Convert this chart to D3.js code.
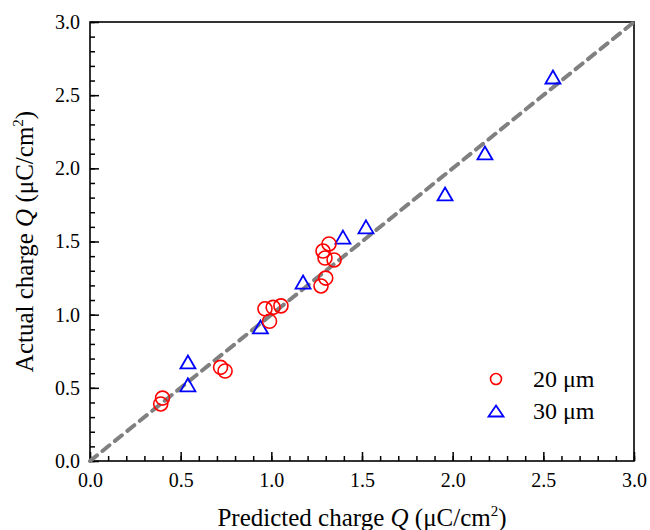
<!DOCTYPE html>
<html>
<head>
<meta charset="utf-8">
<script src="https://cdn.jsdelivr.net/npm/d3@7/dist/d3.min.js"></script>
<style>
  body { margin: 0; background: #fff; }
</style>
</head>
<body>
<svg width="650" height="530"></svg>
<script>
// 20 um samples (predicted, actual)
var pred20 = [0.40, 0.39, 0.72, 0.745, 0.965, 0.99, 1.01, 1.053, 1.274, 1.30, 1.285, 1.296, 1.318, 1.346];
var act20  = [0.43, 0.39, 0.64, 0.615, 1.04, 0.955, 1.05, 1.06, 1.196, 1.25, 1.435, 1.387, 1.483, 1.374];
// 30 um samples
var pred30 = [0.54, 0.54, 0.94, 1.175, 1.395, 1.522, 1.958, 2.178, 2.553];
var act30  = [0.52, 0.677, 0.916, 1.223, 1.53, 1.60, 1.825, 2.105, 2.624];

var majorTicks = [0, 0.5, 1.0, 1.5, 2.0, 2.5, 3.0];
var minorTicks = d3.range(0, 31).map(function(i) { return i / 10; });
var legendLabels = ['20 \u03bcm', '30 \u03bcm'];

var margin = { top: 22, right: 16, bottom: 69, left: 90 };
var width = 650, height = 530;
var serif = '"Liberation Serif", "Times New Roman", "DejaVu Serif", serif';

var svg = d3.select('svg').attr('font-family', serif);

var xScale = d3.scaleLinear().domain([0, 3]).range([margin.left, width - margin.right]);
var yScale = d3.scaleLinear().domain([0, 3]).range([height - margin.bottom, margin.top]);

var tickFont = 20;

// minor ticks
svg.append('g')
  .attr('transform', 'translate(0,' + (height - margin.bottom) + ')')
  .call(d3.axisBottom(xScale).tickValues(minorTicks).tickSizeInner(-5).tickSizeOuter(0).tickFormat(''))
  .call(function(g) { g.select('.domain').remove(); })
  .selectAll('line').attr('stroke-width', 1.5);
svg.append('g')
  .attr('transform', 'translate(' + margin.left + ',0)')
  .call(d3.axisLeft(yScale).tickValues(minorTicks).tickSizeInner(-5).tickSizeOuter(0).tickFormat(''))
  .call(function(g) { g.select('.domain').remove(); })
  .selectAll('line').attr('stroke-width', 1.5);

// major ticks + labels
var xAxis = svg.append('g')
  .attr('transform', 'translate(0,' + (height - margin.bottom) + ')')
  .call(d3.axisBottom(xScale).tickValues(majorTicks).tickSizeInner(-9).tickSizeOuter(0).tickPadding(12).tickFormat(d3.format('.1f')))
  .attr('font-family', serif)
  .attr('font-size', tickFont);
xAxis.select('.domain').remove();
xAxis.selectAll('line').attr('stroke-width', 1.5);
xAxis.selectAll('text').attr('fill', '#000');

var yAxis = svg.append('g')
  .attr('transform', 'translate(' + margin.left + ',0)')
  .call(d3.axisLeft(yScale).tickValues(majorTicks).tickSizeInner(-9).tickSizeOuter(0).tickPadding(10).tickFormat(d3.format('.1f')))
  .attr('font-family', serif)
  .attr('font-size', tickFont);
yAxis.select('.domain').remove();
yAxis.selectAll('line').attr('stroke-width', 1.5);
yAxis.selectAll('text').attr('fill', '#000');

// frame
svg.append('rect')
  .attr('x', margin.left)
  .attr('y', margin.top)
  .attr('width', width - margin.left - margin.right)
  .attr('height', height - margin.top - margin.bottom)
  .attr('fill', 'none')
  .attr('stroke', '#000')
  .attr('stroke-width', 1.6);

// y = x reference line
svg.append('line')
  .attr('x1', xScale(0)).attr('y1', yScale(0))
  .attr('x2', xScale(3)).attr('y2', yScale(3))
  .attr('stroke', '#808080')
  .attr('stroke-width', 4)
  .attr('stroke-dasharray', '9,7')
  .attr('stroke-linecap', 'round');

function triPath(w, h) {
  return 'M0,' + (-h / 2) + 'L' + (w / 2) + ',' + (h / 2) + 'L' + (-w / 2) + ',' + (h / 2) + 'Z';
}

// 30 um triangles
svg.append('g').selectAll('path')
  .data(pred30)
  .enter()
  .append('path')
  .attr('d', triPath(15, 13))
  .attr('transform', function(d, i) { return 'translate(' + xScale(d) + ',' + yScale(act30[i]) + ')'; })
  .attr('fill', 'none')
  .attr('stroke', '#0000ff')
  .attr('stroke-width', 1.8);

// 20 um circles
svg.append('g').selectAll('circle')
  .data(pred20)
  .enter()
  .append('circle')
  .attr('cx', function(d) { return xScale(d); })
  .attr('cy', function(d, i) { return yScale(act20[i]); })
  .attr('r', 7)
  .attr('fill', 'none')
  .attr('stroke', '#ff0000')
  .attr('stroke-width', 1.6);

// legend
var legend = svg.append('g').attr('transform', 'translate(496,379)');
legend.append('circle')
  .attr('r', 5.5)
  .attr('fill', 'none')
  .attr('stroke', '#ff0000')
  .attr('stroke-width', 1.6);
legend.append('path')
  .attr('d', triPath(15, 11))
  .attr('transform', 'translate(0,32)')
  .attr('fill', 'none')
  .attr('stroke', '#0000ff')
  .attr('stroke-width', 1.8);
legend.selectAll('text.lg')
  .data(legendLabels)
  .enter()
  .append('text')
  .attr('class', 'lg')
  .attr('x', 37)
  .attr('y', function(d, i) { return 8 + i * 32; })
  .attr('font-size', 24)
  .text(function(d) { return d; });

// axis titles
var xTitle = svg.append('text')
  .attr('text-anchor', 'middle')
  .attr('x', (margin.left + width - margin.right) / 2)
  .attr('y', 526)
  .attr('font-size', 25);
xTitle.append('tspan').text('Predicted charge ');
xTitle.append('tspan').attr('font-style', 'italic').text('Q');
xTitle.append('tspan').text(' (\u03bcC/cm');
xTitle.append('tspan').attr('font-size', 15).attr('dy', -10).text('2');
xTitle.append('tspan').attr('dy', 10).text(')');

var yTitle = svg.append('text')
  .attr('text-anchor', 'middle')
  .attr('transform', 'translate(33,' + ((margin.top + height - margin.bottom) / 2) + ') rotate(-90)')
  .attr('font-size', 25);
yTitle.append('tspan').text('Actual charge ');
yTitle.append('tspan').attr('font-style', 'italic').text('Q');
yTitle.append('tspan').text(' (\u03bcC/cm');
yTitle.append('tspan').attr('font-size', 15).attr('dy', -10).text('2');
yTitle.append('tspan').attr('dy', 10).text(')');
</script>
</body>
</html>
